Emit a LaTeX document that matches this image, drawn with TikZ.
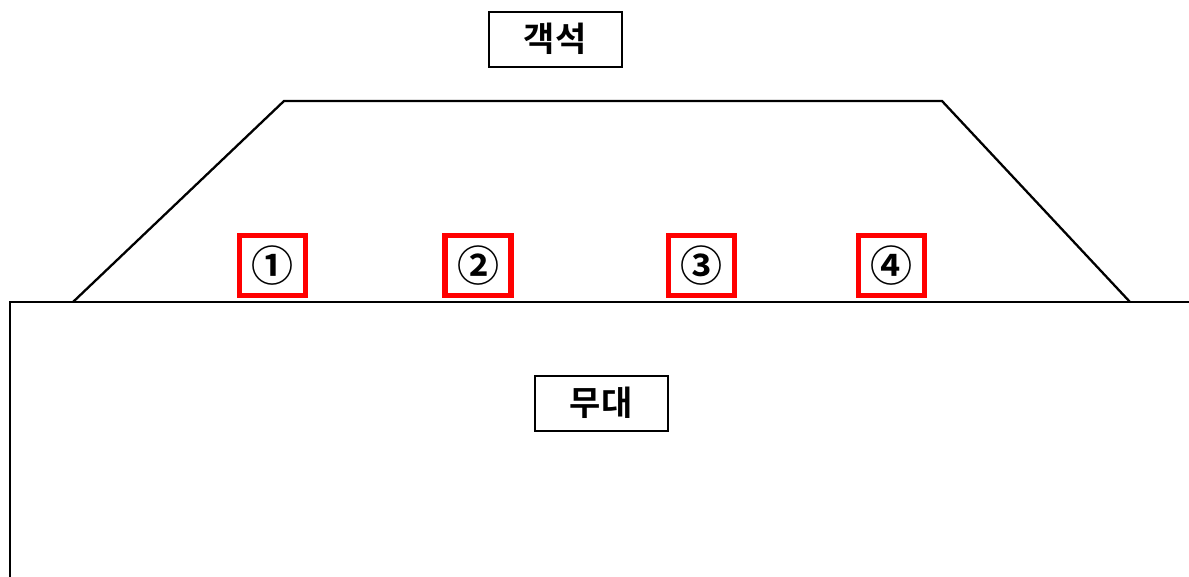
\documentclass[tikz,border=0pt]{standalone}
\usepackage{fontspec}
\newfontfamily\kr{Noto Sans CJK KR}[BoldFont={* Bold}]
\begin{document}
\begin{tikzpicture}[x=1pt,y=-1pt,
  label box/.style={draw=black,line width=2pt,minimum width=133pt,minimum height=55pt,inner sep=0pt,font=\kr\bfseries\fontsize{34}{34}\selectfont},
  num box/.style={draw=red,line width=5.5pt,minimum width=66pt,minimum height=60pt,inner sep=0pt,font=\kr\bfseries\fontsize{42}{42}\selectfont},
  edge/.style={line width=2.3pt,black}]
\useasboundingbox (0,0) rectangle (1189,576);
\coordinate (s1) at (10,577);
\coordinate (s2) at (10,302);
\coordinate (s3) at (1190,302);
\coordinate (t1) at (73,302);
\coordinate (t2) at (284,101);
\coordinate (t3) at (942,101);
\coordinate (t4) at (1130,302);
\draw[edge] (s1) -- (s2) -- (s3);
\draw[edge,line join=miter] (t1) -- (t2) -- (t3) -- (t4);
\node[label box] (audience) at (555,39) {객석};
\node[label box] (stage) at (601,403) {무대};
\node[num box] (n1) at (272.5,265.5) {①};
\node[num box] (n2) at (478,265.5) {②};
\node[num box] (n3) at (701.5,265.5) {③};
\node[num box] (n4) at (891.5,265.5) {④};
\end{tikzpicture}
\end{document}
